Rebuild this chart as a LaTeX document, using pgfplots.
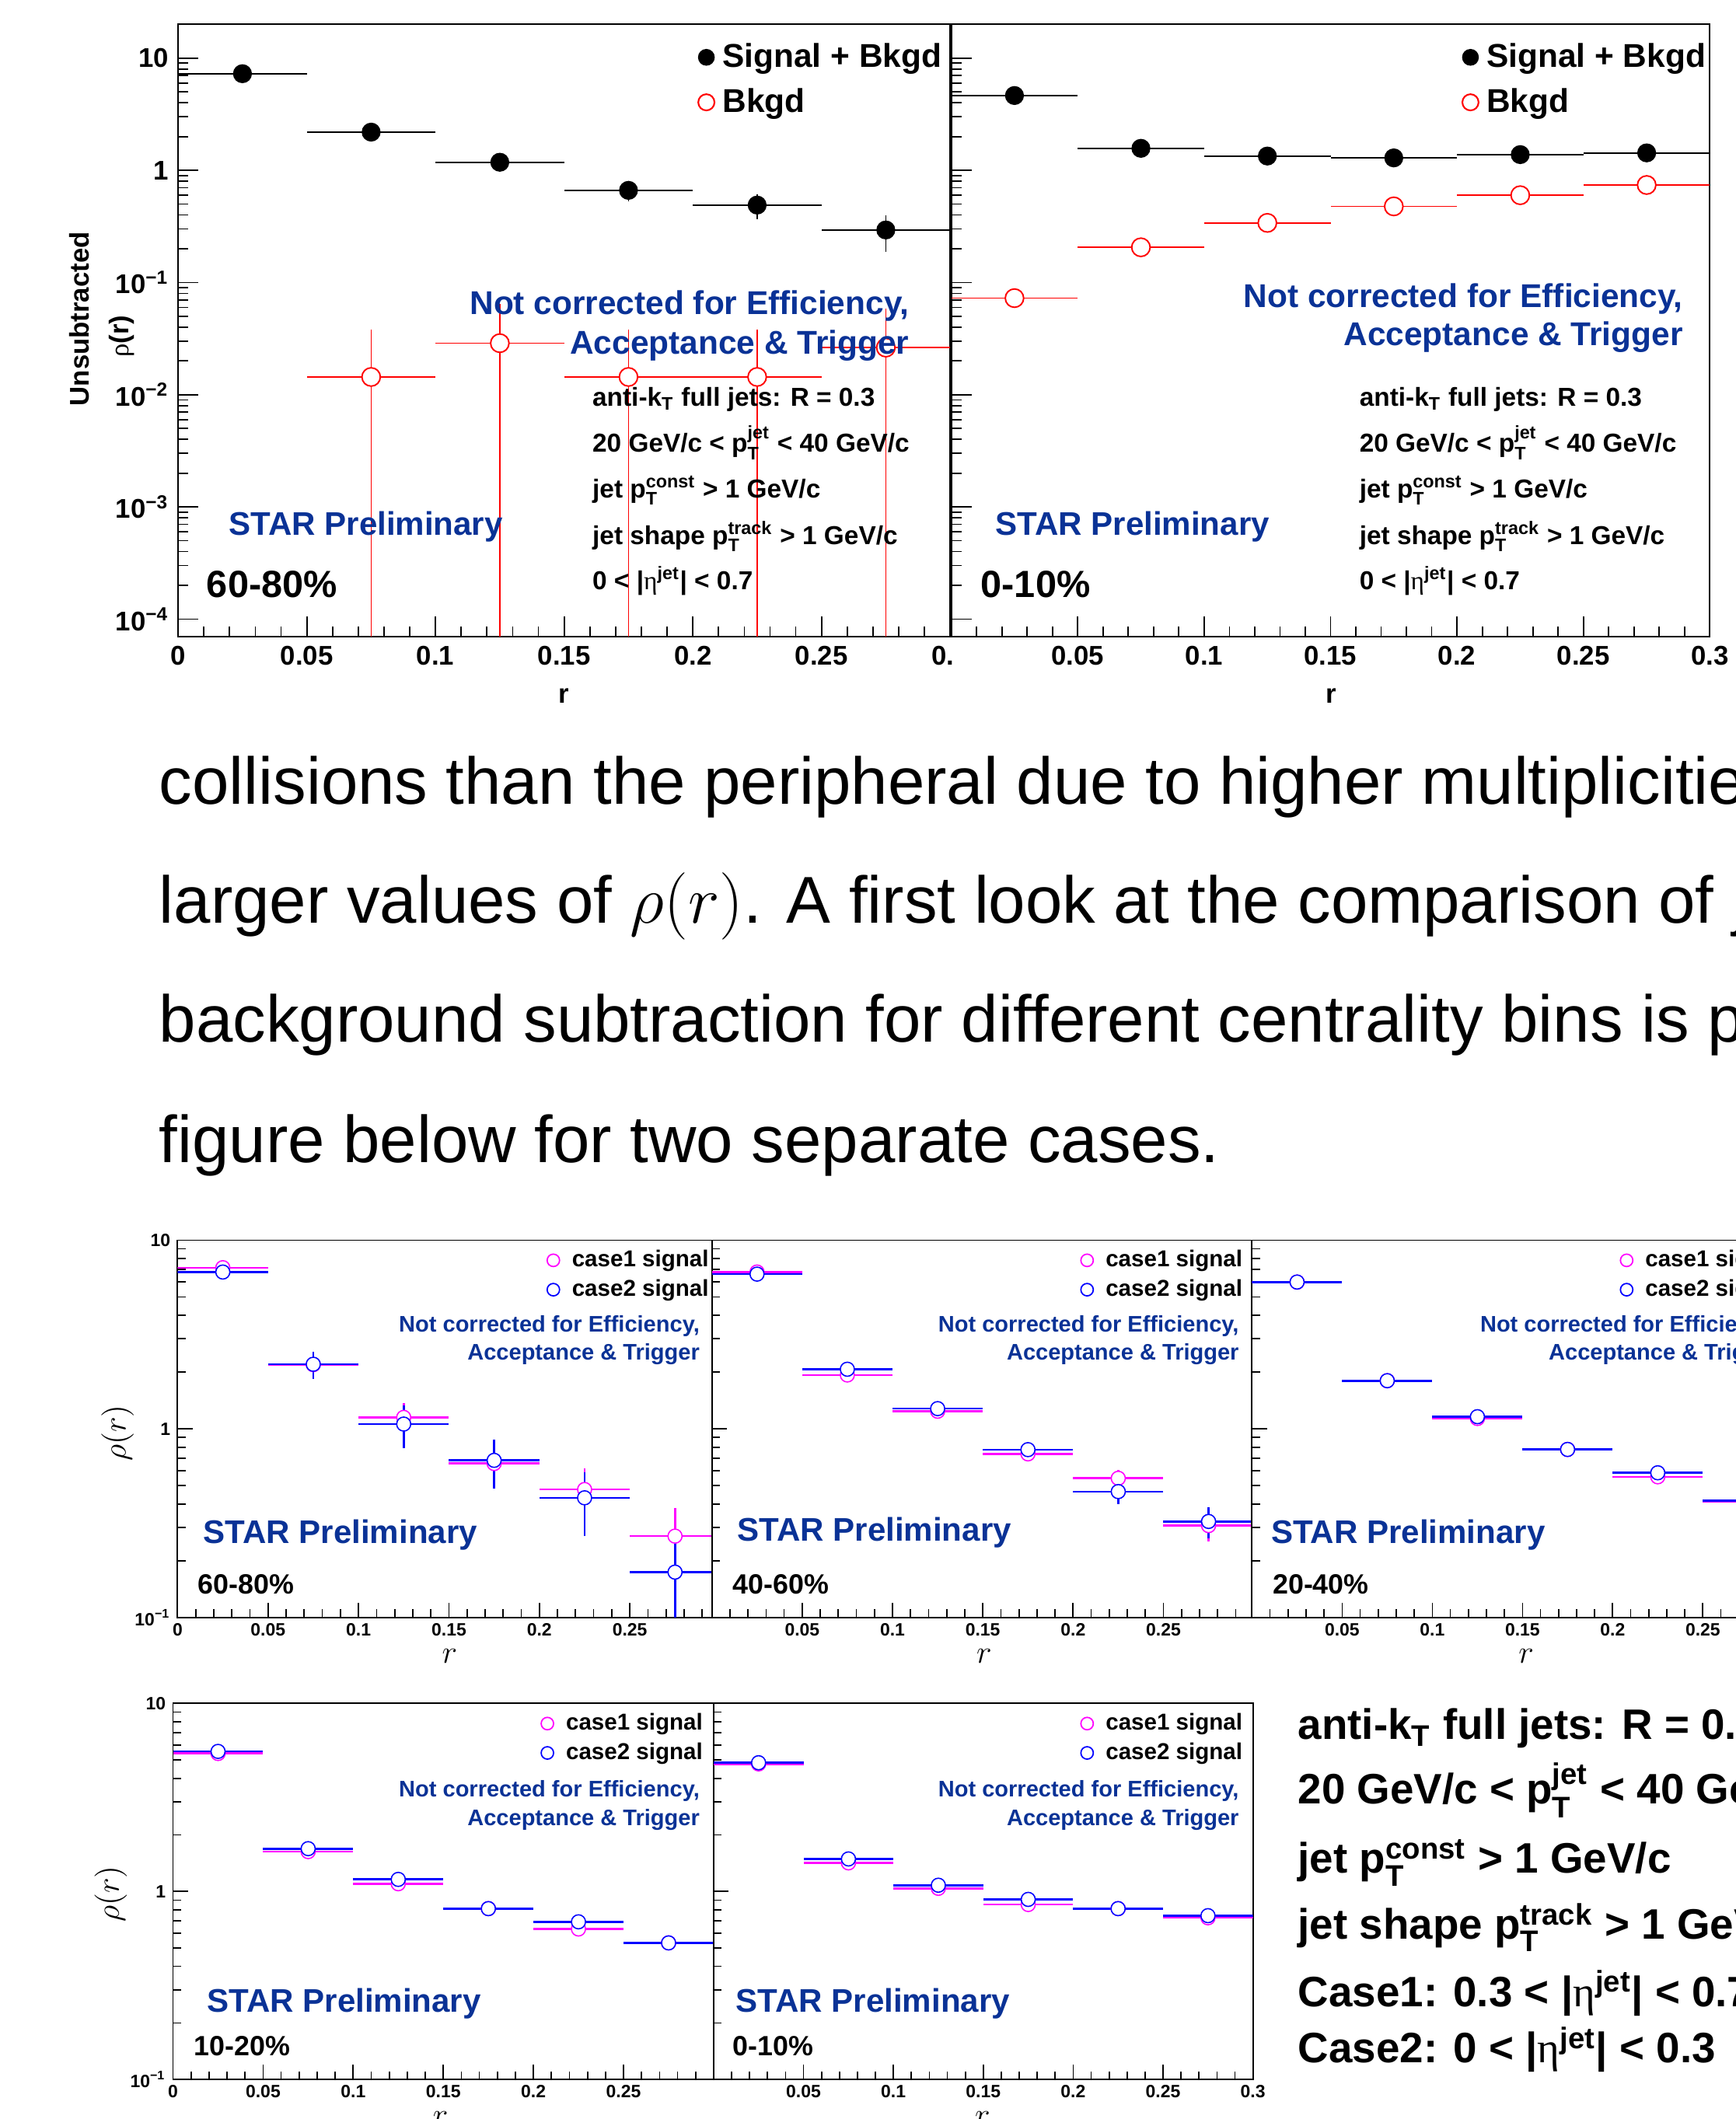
\documentclass[border=0pt]{standalone}
\usepackage{pgfplots}
\pgfplotsset{compat=1.18}
\usepackage{fontspec}
\usepackage{amsmath}
\setmainfont{Liberation Sans}
\newfontfamily\serifgr{Liberation Serif}
\definecolor{starblue}{RGB}{10,50,150}
\definecolor{magc}{RGB}{255,0,255}
\definecolor{bluc}{RGB}{0,0,255}
\definecolor{redc}{RGB}{255,0,0}
\newcommand{\fs}[1]{\fontsize{#1}{#1}\selectfont}
\newcommand{\ps}[2]{$^{\text{#1}}_{\text{#2}}$}
\newcommand{\kT}{k$_{\text{T}}$}
\newcommand{\etaj}{|{\serifgr\mdseries η}$^{\text{jet}}$|}
\newcommand{\tp}[1]{10$^{\text{−#1}}$}

\pgfplotsset{
  mydotleg/.style={legend image code/.code={\draw[##1] plot coordinates {(0pt,0pt)};}},
  mytopax/.style={scale only axis, anchor=north west, xmin=0, xmax=0.3,
    axis line style={line width=0.55pt, black},
    every tick/.style={black, line width=0.5pt},
    tick align=inside, xtick pos=left, ytick pos=left,
    xtick={0,0.05,0.1,0.15,0.2,0.25,0.3}, minor x tick num=4,
    axis background/.style={fill=white},
    legend cell align=left,
    ymin=7e-5, ymax=20, height=226.5pt,
    ytick={1e-4,1e-3,1e-2,1e-1,1,10},
    major tick length=7.5pt, minor tick length=3.8pt,
    ticklabel style={font=\bfseries\fs{10pt}},
    legend style={draw=none, fill=none, inner sep=0pt, font=\bfseries\fs{12.2pt},
      nodes={inner sep=0pt}, column sep=3pt, row sep=6.3pt, anchor=north west,
      at={(0.673,0.9698)}},
  },
  mybotax/.style={scale only axis, anchor=north west, xmin=0, xmax=0.3,
    axis line style={line width=0.55pt, black},
    every tick/.style={black, line width=0.5pt},
    tick align=inside, xtick pos=left, ytick pos=left,
    xtick={0,0.05,0.1,0.15,0.2,0.25,0.3}, minor x tick num=4,
    axis background/.style={fill=white},
    legend cell align=left,
    ymin=0.1, ymax=10, ytick={0.1,1,10},
    major tick length=5.5pt, minor tick length=3pt,
    ticklabel style={font=\bfseries\fs{6.6pt}},
    xticklabel style={inner sep=0pt, yshift=-2pt},
    yticklabel style={inner sep=0pt, xshift=-2.5pt},
    legend style={draw=none, fill=none, inner sep=0pt, font=\bfseries\fs{8.5pt},
      nodes={inner sep=0pt}, column sep=4.6pt, row sep=3.2pt, anchor=north west,
      at={(0.68,0.9755)}},
  },
  mysb/.style={only marks, mark=*, mark size=3.3pt, black,
    error bars/x dir=both, error bars/x explicit, error bars/y dir=both,
    error bars/y explicit, error bars/error mark=none,
    error bars/error bar style={line width=0.5pt}},
  mybk/.style={only marks, mark=*, mark size=3.4pt, redc,
    mark options={fill=white, draw=redc, line width=0.55pt},
    error bars/x dir=both, error bars/x explicit, error bars/y dir=both,
    error bars/y explicit, error bars/error mark=none,
    error bars/error bar style={line width=0.5pt}},
  myca/.style={only marks, mark=*, mark size=2.6pt, magc,
    mark options={fill=white, draw=magc, line width=0.45pt},
    error bars/x dir=both, error bars/x explicit, error bars/y dir=both,
    error bars/y explicit, error bars/error mark=none,
    error bars/error bar style={line width=0.75pt}},
  mycb/.style={only marks, mark=*, mark size=2.6pt, bluc,
    mark options={fill=white, draw=bluc, line width=0.45pt},
    error bars/x dir=both, error bars/x explicit, error bars/y dir=both,
    error bars/y explicit, error bars/error mark=none,
    error bars/error bar style={line width=0.75pt}},
}
\newcommand{\botleg}{%
    \addlegendimage{only marks, mark=*, mark size=2.3pt, mark options={fill=white, draw=magc, line width=0.5pt}, mydotleg}
    \addlegendentry{case1 signal}
    \addlegendimage{only marks, mark=*, mark size=2.3pt, mark options={fill=white, draw=bluc, line width=0.5pt}, mydotleg}
    \addlegendentry{case2 signal}}
\newcommand{\topleg}{%
    \addlegendimage{only marks, mark=*, black, mark size=2.9pt, mydotleg}
    \addlegendentry{Signal + Bkgd}
    \addlegendimage{only marks, mark=*, mark size=3pt, mark options={fill=white, draw=redc, line width=0.6pt}, mydotleg}
    \addlegendentry{Bkgd}}

\begin{document}
\begin{tikzpicture}
\useasboundingbox (0pt,0pt) rectangle (642pt,-784pt);

% ---------------- top left: 60-80%
\begin{axis}[ymode=log, mytopax, at={(65.9pt,-9pt)}, width=285.6pt,
  yticklabels={\tp{4},\tp{3},\tp{2},\tp{1},1,10},
  xticklabels={0,0.05,0.1,0.15,0.2,0.25,0.3}]
\topleg
\addplot[forget plot, mysb] coordinates {
 (0.025,7.26) +- (0.025,0.25)
 (0.075,2.19) +- (0.025,0.08)
 (0.125,1.18) +- (0.025,0.06)
 (0.175,0.663) +- (0.025,0.13)
 (0.225,0.49) +- (0.025,0.125)
 (0.275,0.294) +- (0.025,0.105)
};
\addplot[forget plot, mybk] coordinates {
 (0.075,0.0144) += (0.025,0.0237) -= (0.025,0.01439)
 (0.125,0.0288) += (0.025,0.0356) -= (0.025,0.02879)
 (0.175,0.0144) += (0.025,0.0237) -= (0.025,0.01439)
 (0.225,0.0144) += (0.025,0.0237) -= (0.025,0.01439)
 (0.275,0.0263) += (0.025,0.0326) -= (0.025,0.02629)
};
\end{axis}

\fill[white] (352.2pt,0pt) rectangle (700pt,-266pt);

% ---------------- top right: 0-10%
\begin{axis}[ymode=log, mytopax, at={(351.9pt,-9pt)}, width=280.65pt,
  yticklabels={},
  xticklabels={,0.05,0.1,0.15,0.2,0.25,0.3}]
\topleg
\addplot[forget plot, mysb] coordinates {
 (0.025,4.64) +- (0.025,0.03)
 (0.075,1.57) +- (0.025,0.015)
 (0.125,1.34) +- (0.025,0.012)
 (0.175,1.29) +- (0.025,0.012)
 (0.225,1.38) +- (0.025,0.012)
 (0.275,1.43) +- (0.025,0.012)
};
\addplot[forget plot, mybk] coordinates {
 (0.025,0.0726) +- (0.025,0.001)
 (0.075,0.206) +- (0.025,0.002)
 (0.125,0.340) +- (0.025,0.003)
 (0.175,0.477) +- (0.025,0.003)
 (0.225,0.600) +- (0.025,0.004)
 (0.275,0.740) +- (0.025,0.004)
};
\end{axis}

% ---------------- bottom A: 60-80%
\begin{axis}[ymode=log, mybotax, at={(65.7pt,-458.85pt)}, width=200.75pt, height=139.6pt,
  yticklabels={\tp{1},1,10}, xticklabels={0,0.05,0.1,0.15,0.2,0.25,}]
\botleg
\addplot[forget plot, myca] coordinates {
 (0.025,7.15) +- (0.025,0.3) (0.075,2.19) +- (0.025,0.3) (0.125,1.15) +- (0.025,0.22)
 (0.175,0.655) +- (0.025,0.15) (0.225,0.477) +- (0.025,0.14) (0.275,0.270) +- (0.025,0.11)};
\addplot[forget plot, mycb] coordinates {
 (0.025,6.78) +- (0.025,0.6) (0.075,2.20) +- (0.025,0.36) (0.125,1.06) +- (0.025,0.27)
 (0.175,0.681) +- (0.025,0.2) (0.225,0.431) +- (0.025,0.16) (0.275,0.174) +- (0.025,0.1)};
\end{axis}
\fill[white] (263.35pt,-450pt) rectangle (700pt,-622pt);
% ---------------- bottom B: 40-60%
\begin{axis}[ymode=log, mybotax, at={(263.35pt,-458.85pt)}, width=200.45pt, height=139.6pt,
  yticklabels={}, xticklabels={,0.05,0.1,0.15,0.2,0.25,}]
\botleg
\addplot[forget plot, myca] coordinates {
 (0.025,6.78) +- (0.025,0.12) (0.075,1.93) +- (0.025,0.04) (0.125,1.24) +- (0.025,0.035)
 (0.175,0.737) +- (0.025,0.05) (0.225,0.547) +- (0.025,0.06) (0.275,0.307) +- (0.025,0.055)};
\addplot[forget plot, mycb] coordinates {
 (0.025,6.61) +- (0.025,0.12) (0.075,2.07) +- (0.025,0.04) (0.125,1.28) +- (0.025,0.035)
 (0.175,0.776) +- (0.025,0.06) (0.225,0.465) +- (0.025,0.065) (0.275,0.323) +- (0.025,0.06)};
\end{axis}
\fill[white] (463.15pt,-450pt) rectangle (700pt,-622pt);
% ---------------- bottom C: 20-40%
\begin{axis}[ymode=log, mybotax, at={(463.15pt,-458.85pt)}, width=200.15pt, height=139.6pt,
  yticklabels={}, xticklabels={,0.05,0.1,0.15,0.2,0.25,0.3}]
\botleg
\addplot[forget plot, myca] coordinates {
 (0.025,6.0) +- (0.025,0.05) (0.075,1.80) +- (0.025,0.02) (0.125,1.135) +- (0.025,0.02)
 (0.175,0.778) +- (0.025,0.015) (0.225,0.557) +- (0.025,0.015) (0.275,0.412) +- (0.025,0.015)};
\addplot[forget plot, mycb] coordinates {
 (0.025,6.0) +- (0.025,0.05) (0.075,1.80) +- (0.025,0.02) (0.125,1.16) +- (0.025,0.02)
 (0.175,0.778) +- (0.025,0.015) (0.225,0.585) +- (0.025,0.015) (0.275,0.416) +- (0.025,0.015)};
\end{axis}

% ---------------- bottom D: 10-20%
\begin{axis}[ymode=log, mybotax, at={(64pt,-630.25pt)}, width=200pt, height=139.15pt,
  yticklabels={\tp{1},1,10}, xticklabels={0,0.05,0.1,0.15,0.2,0.25,}]
\botleg
\addplot[forget plot, myca] coordinates {
 (0.025,5.42) +- (0.025,0.05) (0.075,1.63) +- (0.025,0.02) (0.125,1.10) +- (0.025,0.02)
 (0.175,0.811) +- (0.025,0.02) (0.225,0.632) +- (0.025,0.02) (0.275,0.533) +- (0.025,0.03)};
\addplot[forget plot, mycb] coordinates {
 (0.025,5.56) +- (0.025,0.05) (0.075,1.69) +- (0.025,0.02) (0.125,1.16) +- (0.025,0.02)
 (0.175,0.811) +- (0.025,0.02) (0.225,0.690) +- (0.025,0.02) (0.275,0.533) +- (0.025,0.035)};
\end{axis}
\fill[white] (264pt,-622pt) rectangle (700pt,-800pt);
% ---------------- bottom E: 0-10%
\begin{axis}[ymode=log, mybotax, at={(264pt,-630.25pt)}, width=199.5pt, height=139.15pt,
  yticklabels={}, xticklabels={,0.05,0.1,0.15,0.2,0.25,0.3}]
\botleg
\addplot[forget plot, myca] coordinates {
 (0.025,4.77) +- (0.025,0.05) (0.075,1.42) +- (0.025,0.02) (0.125,1.04) +- (0.025,0.015)
 (0.175,0.853) +- (0.025,0.015) (0.225,0.811) +- (0.025,0.015) (0.275,0.725) +- (0.025,0.015)};
\addplot[forget plot, mycb] coordinates {
 (0.025,4.84) +- (0.025,0.05) (0.075,1.49) +- (0.025,0.02) (0.125,1.08) +- (0.025,0.015)
 (0.175,0.908) +- (0.025,0.015) (0.225,0.811) +- (0.025,0.015) (0.275,0.744) +- (0.025,0.015)};
\end{axis}

% ---------------- texts (coordinates in reference pixels of the 1284x1568 view)
\begin{scope}[x=0.5pt, y=-0.5pt, every node/.style={inner sep=0pt}]
% top left
\node[anchor=base east, text=starblue, font=\bfseries\fs{12.2pt}] at (673,232.5) {Not corrected for Efficiency,};
\node[anchor=base east, text=starblue, font=\bfseries\fs{12.2pt}] at (673,262) {Acceptance \& Trigger};
\node[anchor=base west, text=starblue, font=\bfseries\fs{12.1pt}] at (169,396) {STAR Preliminary};
\node[anchor=base west, font=\bfseries\fs{14pt}] at (152.6,442) {60-80\%};
\begin{scope}[every node/.style={inner sep=0pt, anchor=base west, font=\bfseries\fs{9.6pt}}]
\node at (438,300.7) {anti-\kT{} full jets: R = 0.3};
\node at (438,334.6) {20 GeV/c < p\ps{jet}{T} < 40 GeV/c};
\node at (438,368.2) {jet p\ps{const}{T} > 1 GeV/c};
\node at (438,402.7) {jet shape p\ps{track}{T} > 1 GeV/c};
\node at (438,436.3) {0 < \etaj{} < 0.7};
\node at (1005.5,300.7) {anti-\kT{} full jets: R = 0.3};
\node at (1005.5,334.6) {20 GeV/c < p\ps{jet}{T} < 40 GeV/c};
\node at (1005.5,368.2) {jet p\ps{const}{T} > 1 GeV/c};
\node at (1005.5,402.7) {jet shape p\ps{track}{T} > 1 GeV/c};
\node at (1005.5,436.3) {0 < \etaj{} < 0.7};
\end{scope}
% top right
\node[anchor=base east, text=starblue, font=\bfseries\fs{12.2pt}] at (1245.5,227.6) {Not corrected for Efficiency,};
\node[anchor=base east, text=starblue, font=\bfseries\fs{12.2pt}] at (1245.5,255.6) {Acceptance \& Trigger};
\node[anchor=base west, text=starblue, font=\bfseries\fs{12.1pt}] at (736.2,396) {STAR Preliminary};
\node[anchor=base west, font=\bfseries\fs{14pt}] at (725.3,442) {0-10\%};
% top axis labels
\node[rotate=90, font=\bfseries\fs{10pt}] at (58.5,236) {Unsubtracted};
\node[rotate=90, font=\bfseries\fs{10pt}] at (90,249) {{\serifgr\mdseries ρ}(r)};
\node[font=\bfseries\fs{10pt}] at (417,515) {r};
\node[font=\bfseries\fs{10pt}] at (985,515) {r};

% paragraph
\begin{scope}[every node/.style={inner sep=0pt, anchor=base west, font=\fs{24.5pt}}]
\node at (117.4,595) {collisions than the peripheral due to higher multiplicities};
\node at (117.4,683) {larger values of $\rho(r)$. A first look at the comparison of jet};
\node at (117.4,771.3) {background subtraction for different centrality bins is pre};
\node at (117.4,860) {figure below for two separate cases.};
\end{scope}

% bottom plot texts
\begin{scope}[every node/.style={inner sep=0pt, anchor=base east, text=starblue, font=\bfseries\fs{8.35pt}}]
\node at (518,985.5) {Not corrected for Efficiency,};
\node at (518,1006.4) {Acceptance \& Trigger};
\node at (917,985.5) {Not corrected for Efficiency,};
\node at (917,1006.4) {Acceptance \& Trigger};
\node at (1318,985.5) {Not corrected for Efficiency,};
\node at (1318,1006.4) {Acceptance \& Trigger};
\node at (518,1329.8) {Not corrected for Efficiency,};
\node at (518,1351) {Acceptance \& Trigger};
\node at (917,1329.8) {Not corrected for Efficiency,};
\node at (917,1351) {Acceptance \& Trigger};
\end{scope}
\begin{scope}[every node/.style={inner sep=0pt, anchor=base west, text=starblue, font=\bfseries\fs{12.1pt}}]
\node at (150.1,1141.8) {STAR Preliminary};
\node at (545.2,1140.5) {STAR Preliminary};
\node at (940.2,1141.8) {STAR Preliminary};
\node at (152.9,1488.7) {STAR Preliminary};
\node at (544.1,1488.7) {STAR Preliminary};
\end{scope}
\begin{scope}[every node/.style={inner sep=0pt, anchor=base west, font=\bfseries\fs{10.3pt}}]
\node at (146,1179.7) {60-80\%};
\node at (542,1179.4) {40-60\%};
\node at (941.3,1179.7) {20-40\%};
\node at (143.3,1520.9) {10-20\%};
\node at (542,1520.9) {0-10\%};
\end{scope}
\begin{scope}[every node/.style={inner sep=0pt, font=\fs{12.5pt}}]
\node at (332.7,1225.5) {$r$};
\node at (728.2,1225.5) {$r$};
\node at (1129.2,1225.5) {$r$};
\node at (326,1567.6) {$r$};
\node at (727,1567.6) {$r$};
\node[rotate=90] at (87,1060.3) {$\rho(r)$};
\node[rotate=90] at (81.9,1401.5) {$\rho(r)$};
\end{scope}

% bottom right text block
\begin{scope}[every node/.style={inner sep=0pt, anchor=base west, font=\bfseries\fs{15.75pt}}]
\node at (960,1286.8) {anti-\kT{} full jets: R = 0.3};
\node at (960,1335) {20 GeV/c < p\ps{jet}{T} < 40 GeV/c};
\node at (960,1385.9) {jet p\ps{const}{T} > 1 GeV/c};
\node at (960,1434.7) {jet shape p\ps{track}{T} > 1 GeV/c};
\node at (960,1484.6) {Case1: 0.3 < \etaj{} < 0.7};
\node at (960,1526.1) {Case2: 0 < \etaj{} < 0.3};
\end{scope}
\end{scope}
\end{tikzpicture}
\end{document}
